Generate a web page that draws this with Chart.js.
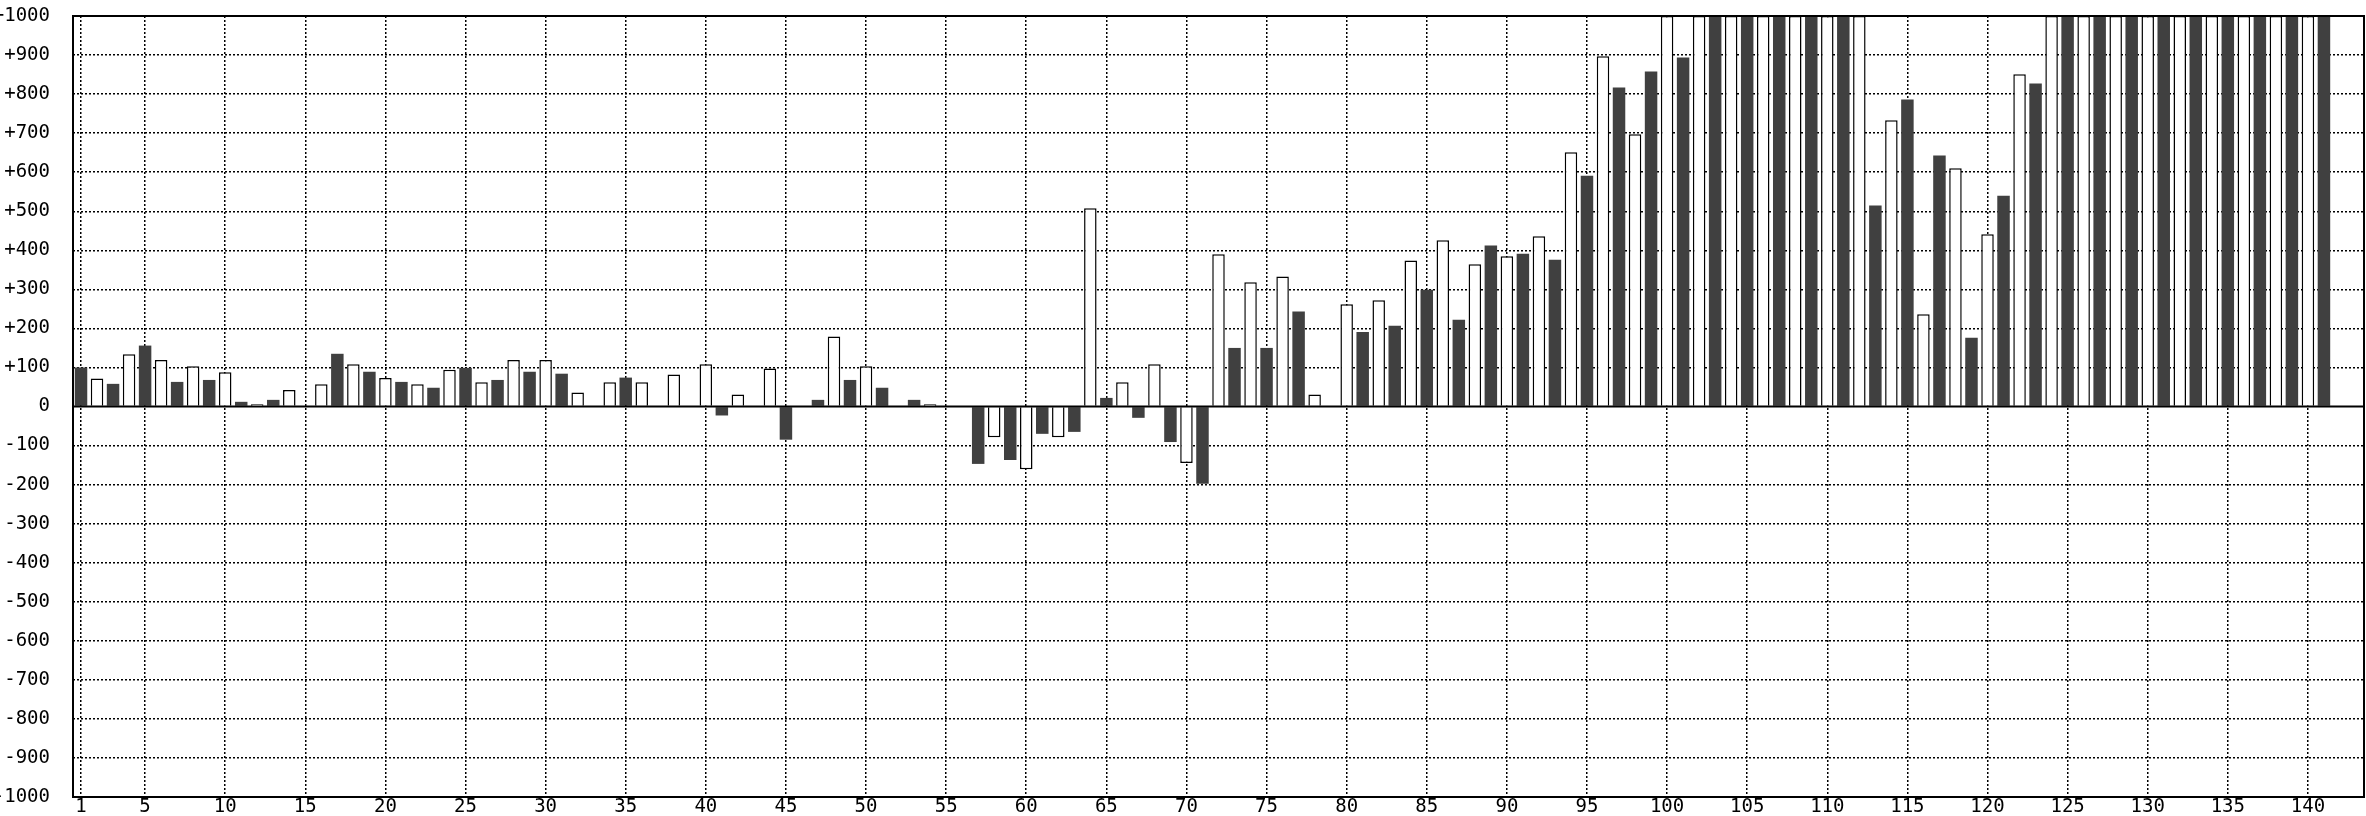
<!DOCTYPE html>
<html>
<head>
<meta charset="utf-8">
<script src="https://cdn.jsdelivr.net/npm/chart.js@4/dist/chart.umd.min.js"></script>
<style>
	html,body{margin:0;padding:0;background:#fff;}
	#wrap{width:2366px;height:816px;}
</style>
</head>
<body>
<div id="wrap"><canvas id="canvas" width="2366" height="816"></canvas></div>
<script>
// one value per category, odd categories are the dark bars, even ones the white bars
var values = [
	100, 72, 58, 134, 156, 119, 63, 103, 68, 88,
	12, 6, 17, 42, null, 57, 135, 108, 89, 73,
	63, 57, 48, 94, 99, 62, 68, 119, 89, 119,
	84, 36, null, 62, 74, 62, null, 82, null, 108,
	-23, 31, null, 97, -85, null, 17, 179, 68, 103,
	48, null, 17, 6, null, null, -147, -79, -137, -161,
	-70, -79, -65, 508, 22, 62, -29, 108, -91, -145,
	-198, 390, 150, 318, 150, 333, 243, 31, null, 262,
	191, 272, 207, 374, 299, 426, 222, 364, 412, 385,
	391, 436, 376, 651, 591, 897, 817, 697, 858, 1000,
	894, 1000, 1000, 1000, 1000, 1000, 1000, 1000, 1000, 1000,
	1000, 1000, 515, 733, 786, 236, 643, 610, 176, 441,
	540, 851, 827, 1000, 1000, 1000, 1000, 1000, 1000, 1000,
	1000, 1000, 1000, 1000, 1000, 1000, 1000, 1000, 1000, 1000,
	1000
];
var categories = [];
for (var i = 1; i <= values.length; i++) {
	categories.push(i);
}
var xTickValues = [1, 5, 10, 15, 20, 25, 30, 35, 40, 45, 50, 55, 60, 65, 70, 75, 80, 85, 90, 95, 100, 105, 110, 115, 120, 125, 130, 135, 140];

var DARK = '#404040';
var FONT = {family: 'DejaVu Sans Mono', size: 19, lineHeight: 1};

// frame round the plot and the solid zero line
var framePlugin = {
	id: 'frame',
	afterDatasetsDraw: function(chart) {
		var a = chart.chartArea;
		var ctx = chart.ctx;
		var y0 = chart.scales.y.getPixelForValue(0);
		ctx.save();
		ctx.strokeStyle = '#000';
		ctx.lineWidth = 2;
		ctx.strokeRect(a.left, a.top, a.right - a.left, a.bottom - a.top);
		ctx.beginPath();
		ctx.moveTo(a.left, y0);
		ctx.lineTo(a.right, y0);
		ctx.stroke();
		ctx.restore();
	}
};

window.onload = function() {
	var ctx = document.getElementById('canvas').getContext('2d');
	window.myBar = new Chart(ctx, {
		type: 'bar',
		data: {
			labels: categories,
			datasets: [{
				data: values,
				backgroundColor: function(c) { return c.dataIndex % 2 === 0 ? DARK : '#fff'; },
				borderColor: '#000',
				borderWidth: function(c) { return c.dataIndex % 2 === 0 ? 0 : 1.5; },
				barPercentage: 0.78,
				categoryPercentage: 1
			}]
		},
		options: {
			responsive: false,
			animation: false,
			devicePixelRatio: 1,
			layout: {padding: {top: 16, right: 2, left: 0, bottom: 0}},
			plugins: {legend: {display: false}, tooltip: {enabled: false}},
			scales: {
				x: {
					type: 'linear',
					min: 0.5,
					max: 143.5,
					offset: false,
					afterBuildTicks: function(scale) {
						scale.ticks = xTickValues.map(function(v) { return {value: v}; });
					},
					afterFit: function(scale) {
						scale.height = 19;
						scale.paddingLeft = 0;
						scale.paddingRight = 0;
					},
					ticks: {
						autoSkip: false,
						maxRotation: 0,
						padding: 1,
						color: '#000',
						font: FONT,
						callback: function(v) { return String(v); }
					},
					grid: {color: '#000', lineWidth: 1.5, drawTicks: false, offset: false},
					border: {display: false, dash: [2, 2]}
				},
				y: {
					min: -1000,
					max: 1000,
					afterFit: function(scale) {
						scale.width = 73;
						scale.paddingTop = 0;
						scale.paddingBottom = 0;
					},
					ticks: {
						stepSize: 100,
						padding: 23,
						color: '#000',
						font: FONT,
						callback: function(v) { return v > 0 ? '+' + v : String(v); }
					},
					grid: {
						color: function(c) { return c.tick && c.tick.value === 0 ? 'rgba(0,0,0,0)' : '#000'; },
						lineWidth: 1.5,
						drawTicks: false
					},
					border: {display: false, dash: [2, 2]}
				}
			}
		},
		plugins: [framePlugin]
	});
};
</script>
</body>
</html>
